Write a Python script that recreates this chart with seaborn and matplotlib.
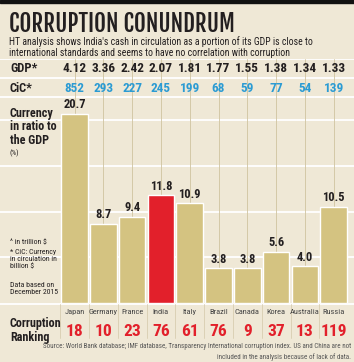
"""
corruption conundrum - currency in circulation vs GDP
"""
import matplotlib.pyplot as plt
import seaborn as sns
import pandas as pd

countries = ["Japan", "Germany", "France", "India", "Italy", "Brazil", "Canada", "Korea", "Australia", "Russia"]
gdp = ["4.12", "3.36", "2.42", "2.07", "1.81", "1.77", "1.55", "1.38", "1.34", "1.33"]
cic = [852, 293, 227, 245, 199, 68, 59, 77, 54, 139]
ratio = [20.7, 8.7, 9.4, 11.8, 10.9, 3.8, 3.8, 5.6, 4.0, 10.5]
ranking = [18, 10, 23, 76, 61, 76, 9, 37, 13, 119]

bg = "#efe8d6"
khaki = "#d4c381"
red = "#e2202b"
blue = "#2b9bd3"
dark = "#231f20"

sns.set_style("white")
narrow = ['Roboto Condensed', 'Archivo Narrow', 'PT Sans Narrow', 'Liberation Sans Narrow', 'DejaVu Sans']
plt.rcParams['font.family'] = narrow

W, H = 354, 362
fig = plt.figure(figsize=(W / 100, H / 100), dpi=100)
fig.patch.set_facecolor(bg)


# pixel helpers so the layout can be read straight off the reference
def fx(x):
    return x / W


def fy(y):
    return 1 - y / H


# black strip on top
fig.add_artist(plt.Rectangle((0, fy(3)), 1, 3 / H, transform=fig.transFigure, color="#111111"))

fig.text(fx(9), fy(32), "CORRUPTION CONUNDRUM", fontsize=16.5, fontweight="bold", color=dark, va="baseline",
         family=['Fjalla One', 'Roboto Condensed', 'DejaVu Sans'])
fig.text(fx(9), fy(45), "HT analysis shows India's cash in circulation as a portion of its GDP is close to",
         fontsize=7.0, color=dark, va="baseline")
fig.text(fx(9), fy(56), "international standards and seems to have no correlation with corruption",
         fontsize=7.0, color=dark, va="baseline")

# bar area runs from y=59 to y=303 px, 9.13 px per percentage point
px_per_unit = 9.13
ax = fig.add_axes([0, fy(303), 1, (303 - 59) / H])
ax.set_facecolor(bg)
spacing = 28.8
first = 74.5

for g in [5, 10, 15, 20]:
    ax.axhline(g, color="white", lw=1.3, zorder=0)
for sep in [59, 78, 97]:
    ax.axhline((303 - sep) / px_per_unit, color="white", lw=1.3, zorder=0)
for i in range(len(countries)):
    ax.axvline(i, ymin=0, ymax=1, color="#cfc3a0", lw=0.6, zorder=0)

df = pd.DataFrame({"Country": countries, "Ratio": ratio})
colors = [red if c == "India" else khaki for c in countries]
sns.barplot(data=df, x="Country", y="Ratio", hue="Country", palette=colors, legend=False,
            width=0.93, saturation=1, ax=ax, zorder=2)
for i, v in enumerate(ratio):
    ax.text(i, v + 0.3, "%.1f" % v, ha="center", va="bottom", fontsize=9, fontweight="bold", color=dark)

# seaborn resets the limits, so set them afterwards
ax.set_xlim(-first / spacing, (W - first) / spacing)
ax.set_ylim(0, (303 - 59) / px_per_unit)
ax.set_xlabel("")
ax.set_ylabel("")
ax.set_xticks([])
ax.set_yticks([])
for s in ax.spines.values():
    s.set_visible(False)

# GDP and CiC rows
fig.text(fx(10), fy(68), "GDP*", fontsize=9, fontweight="bold", color=dark, va="center")
fig.text(fx(10), fy(88), "CiC*", fontsize=9, fontweight="bold", color=dark, va="center")
for i in range(len(countries)):
    x = first + spacing * i
    fig.text(fx(x), fy(68), gdp[i], fontsize=9.5, fontweight="bold", color=dark, ha="center", va="center")
    fig.text(fx(x), fy(88), str(cic[i]), fontsize=9.5, fontweight="bold", color=blue, ha="center", va="center")

# left panel notes
fig.text(fx(10), fy(107), "Currency\nin ratio to\nthe GDP", fontsize=8.7, fontweight="bold", color=dark,
         va="top", linespacing=1.05)
fig.text(fx(10), fy(153), "(%)", fontsize=5.5, color=dark, va="center")
fig.text(fx(10), fy(242), "^ in trillion $", fontsize=5.6, color=dark, va="center")
fig.text(fx(10), fy(249), "* CiC: Currency\nin circulation in\nbillion $", fontsize=5.6, color=dark, va="top",
         linespacing=1.2)
fig.text(fx(10), fy(282), "Data based on\nDecember 2015", fontsize=5.6, color=dark, va="top", linespacing=1.2)

# ranking strip
fig.add_artist(plt.Line2D([0, 1], [fy(303.5), fy(303.5)], transform=fig.transFigure, color="white", lw=1.3))
fig.text(fx(10), fy(330), "Corruption\nRanking", fontsize=8.7, fontweight="bold", color=dark, va="center",
         linespacing=1.1)
for i in range(len(countries)):
    x = first + spacing * i
    fig.text(fx(x), fy(312), countries[i], fontsize=6, color="#444444", ha="center", va="center")
    fig.text(fx(x), fy(331), str(ranking[i]), fontsize=12.5, fontweight="bold", color=red, ha="center",
             va="center")
    edge = x - spacing / 2
    fig.add_artist(plt.Line2D([fx(edge), fx(edge)], [fy(338), fy(304)], transform=fig.transFigure,
                              color="#d8cdb0", lw=0.6))

fig.text(fx(351), fy(347), "Source: World Bank database; IMF database, Transparency International corruption index. "
         "US and China are not", fontsize=5, color="#555555", ha="right", va="center")
fig.text(fx(351), fy(357), "included in the analysis because of lack of data.", fontsize=5, color="#555555",
         ha="right", va="center")

plt.savefig("out.png", dpi=100, facecolor=bg)
